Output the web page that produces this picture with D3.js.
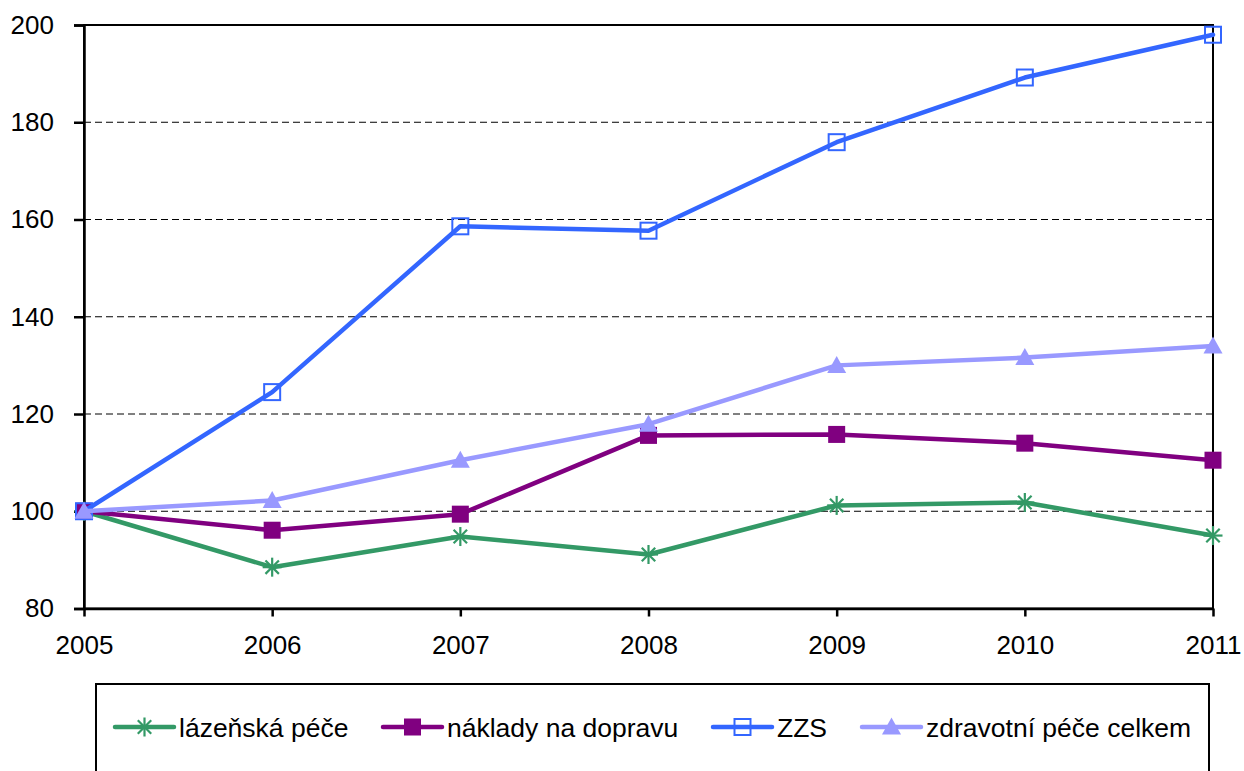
<!DOCTYPE html>
<html><head><meta charset="utf-8">
<script src="https://cdn.jsdelivr.net/npm/d3@7"></script>
<style>body{margin:0;background:#fff}svg{display:block;font-family:"Liberation Sans",Arial,sans-serif}</style>
</head><body><svg id="c" width="1244" height="771"></svg>
<script>
const years = ["2005","2006","2007","2008","2009","2010","2011"];
const lazenska = [100, 88.5, 94.8, 91.1, 101.2, 101.8, 95.0];
const naklady = [100, 96.1, 99.4, 115.6, 115.8, 114.0, 110.5];
const zzs = [100, 124.5, 158.6, 157.7, 175.9, 189.2, 198.0];
const zdravotni = [100, 102.2, 110.5, 117.9, 130.0, 131.6, 134.0];
const yTicks = [80, 100, 120, 140, 160, 180, 200];
const seriesNames = ["lázeňská péče", "náklady na dopravu", "ZZS", "zdravotní péče celkem"];

const series = [
  {name: seriesNames[0], values: lazenska, color: "#339966", marker: "star"},
  {name: seriesNames[1], values: naklady, color: "#800080", marker: "square"},
  {name: seriesNames[2], values: zzs, color: "#3366FF", marker: "hollow"},
  {name: seriesNames[3], values: zdravotni, color: "#9999FF", marker: "triangle"}
];

const svg = d3.select("#c");
const L = 84, R = 1213, T = 25, B = 608.5;
const x = d3.scalePoint().domain(years).range([L, R]);
const y = d3.scaleLinear().domain([80, 200]).range([B, T]);

// gridlines
svg.append("g").selectAll("line").data(yTicks.filter(v => v > 80 && v < 200)).join("line")
  .attr("x1", L).attr("x2", R).attr("y1", d => y(d)).attr("y2", d => y(d))
  .attr("stroke", "#000").attr("stroke-width", 1).attr("stroke-dasharray", "7,4");

// frame
svg.append("rect").attr("x", L).attr("y", T).attr("width", R - L).attr("height", B - T)
  .attr("fill", "none").attr("stroke", "#000").attr("stroke-width", 2);

// y axis
const yAxis = d3.axisLeft(y).tickValues(yTicks).tickSize(10).tickPadding(20).tickFormat(d3.format("d"));
const gy = svg.append("g").attr("transform", `translate(${L},0)`).call(yAxis);
gy.select(".domain").attr("stroke-width", 2.5);
gy.selectAll(".tick line").attr("stroke-width", 2.5);
gy.selectAll("text").attr("font-size", 26).attr("fill", "#000").attr("font-family", "Liberation Sans, Arial, sans-serif");

// x axis
const xAxis = d3.axisBottom(x).tickSize(8).tickPadding(19).tickSizeOuter(0);
const gx = svg.append("g").attr("transform", `translate(0,${B})`).call(xAxis);
gx.select(".domain").attr("stroke-width", 2.5);
gx.selectAll(".tick line").attr("stroke-width", 2.5);
gx.selectAll("text").attr("font-size", 26).attr("fill", "#000").attr("font-family", "Liberation Sans, Arial, sans-serif");

function drawMarker(g, type, color, cx, cy) {
  if (type === "star") {
    const r = 9.5;
    const gg = g.append("g").attr("stroke", color).attr("stroke-width", 2.2);
    [0, 45, 90, 135].forEach(a => {
      const rad = a * Math.PI / 180;
      gg.append("line").attr("x1", cx - r * Math.cos(rad)).attr("y1", cy - r * Math.sin(rad))
        .attr("x2", cx + r * Math.cos(rad)).attr("y2", cy + r * Math.sin(rad));
    });
  } else if (type === "square") {
    g.append("rect").attr("x", cx - 8.5).attr("y", cy - 8.5).attr("width", 17).attr("height", 17).attr("fill", color);
  } else if (type === "hollow") {
    g.append("rect").attr("x", cx - 8).attr("y", cy - 8).attr("width", 16).attr("height", 16)
      .attr("fill", "none").attr("stroke", color).attr("stroke-width", 2);
  } else if (type === "triangle") {
    g.append("path").attr("d", `M${cx},${cy - 9.5}L${cx + 9.5},${cy + 7.5}L${cx - 9.5},${cy + 7.5}Z`).attr("fill", color);
  }
}

const line = d3.line().x((d, i) => x(years[i])).y(d => y(d));
series.forEach(s => {
  const g = svg.append("g");
  g.append("path").datum(s.values).attr("d", line).attr("fill", "none")
    .attr("stroke", s.color).attr("stroke-width", 4.5).attr("stroke-linejoin", "round").attr("stroke-linecap", "round");
  s.values.forEach((v, i) => drawMarker(g, s.marker, s.color, x(years[i]), y(v)));
});

// legend
svg.append("rect").attr("x", 96).attr("y", 684).attr("width", 1209 - 96).attr("height", 120)
  .attr("fill", "none").attr("stroke", "#000").attr("stroke-width", 2);
const legX = [115, 383, 713, 862];
const legY = 727;
series.forEach((s, i) => {
  const g = svg.append("g");
  g.append("line").attr("x1", legX[i]).attr("x2", legX[i] + 59).attr("y1", legY).attr("y2", legY)
    .attr("stroke", s.color).attr("stroke-width", 4.5).attr("stroke-linecap", "round");
  drawMarker(g, s.marker, s.color, legX[i] + 29.5, legY);
  g.append("text").attr("x", legX[i] + 64).attr("y", legY + 9.5).attr("font-size", 26.5).attr("fill", "#000").text(s.name);
});
</script></body></html>
